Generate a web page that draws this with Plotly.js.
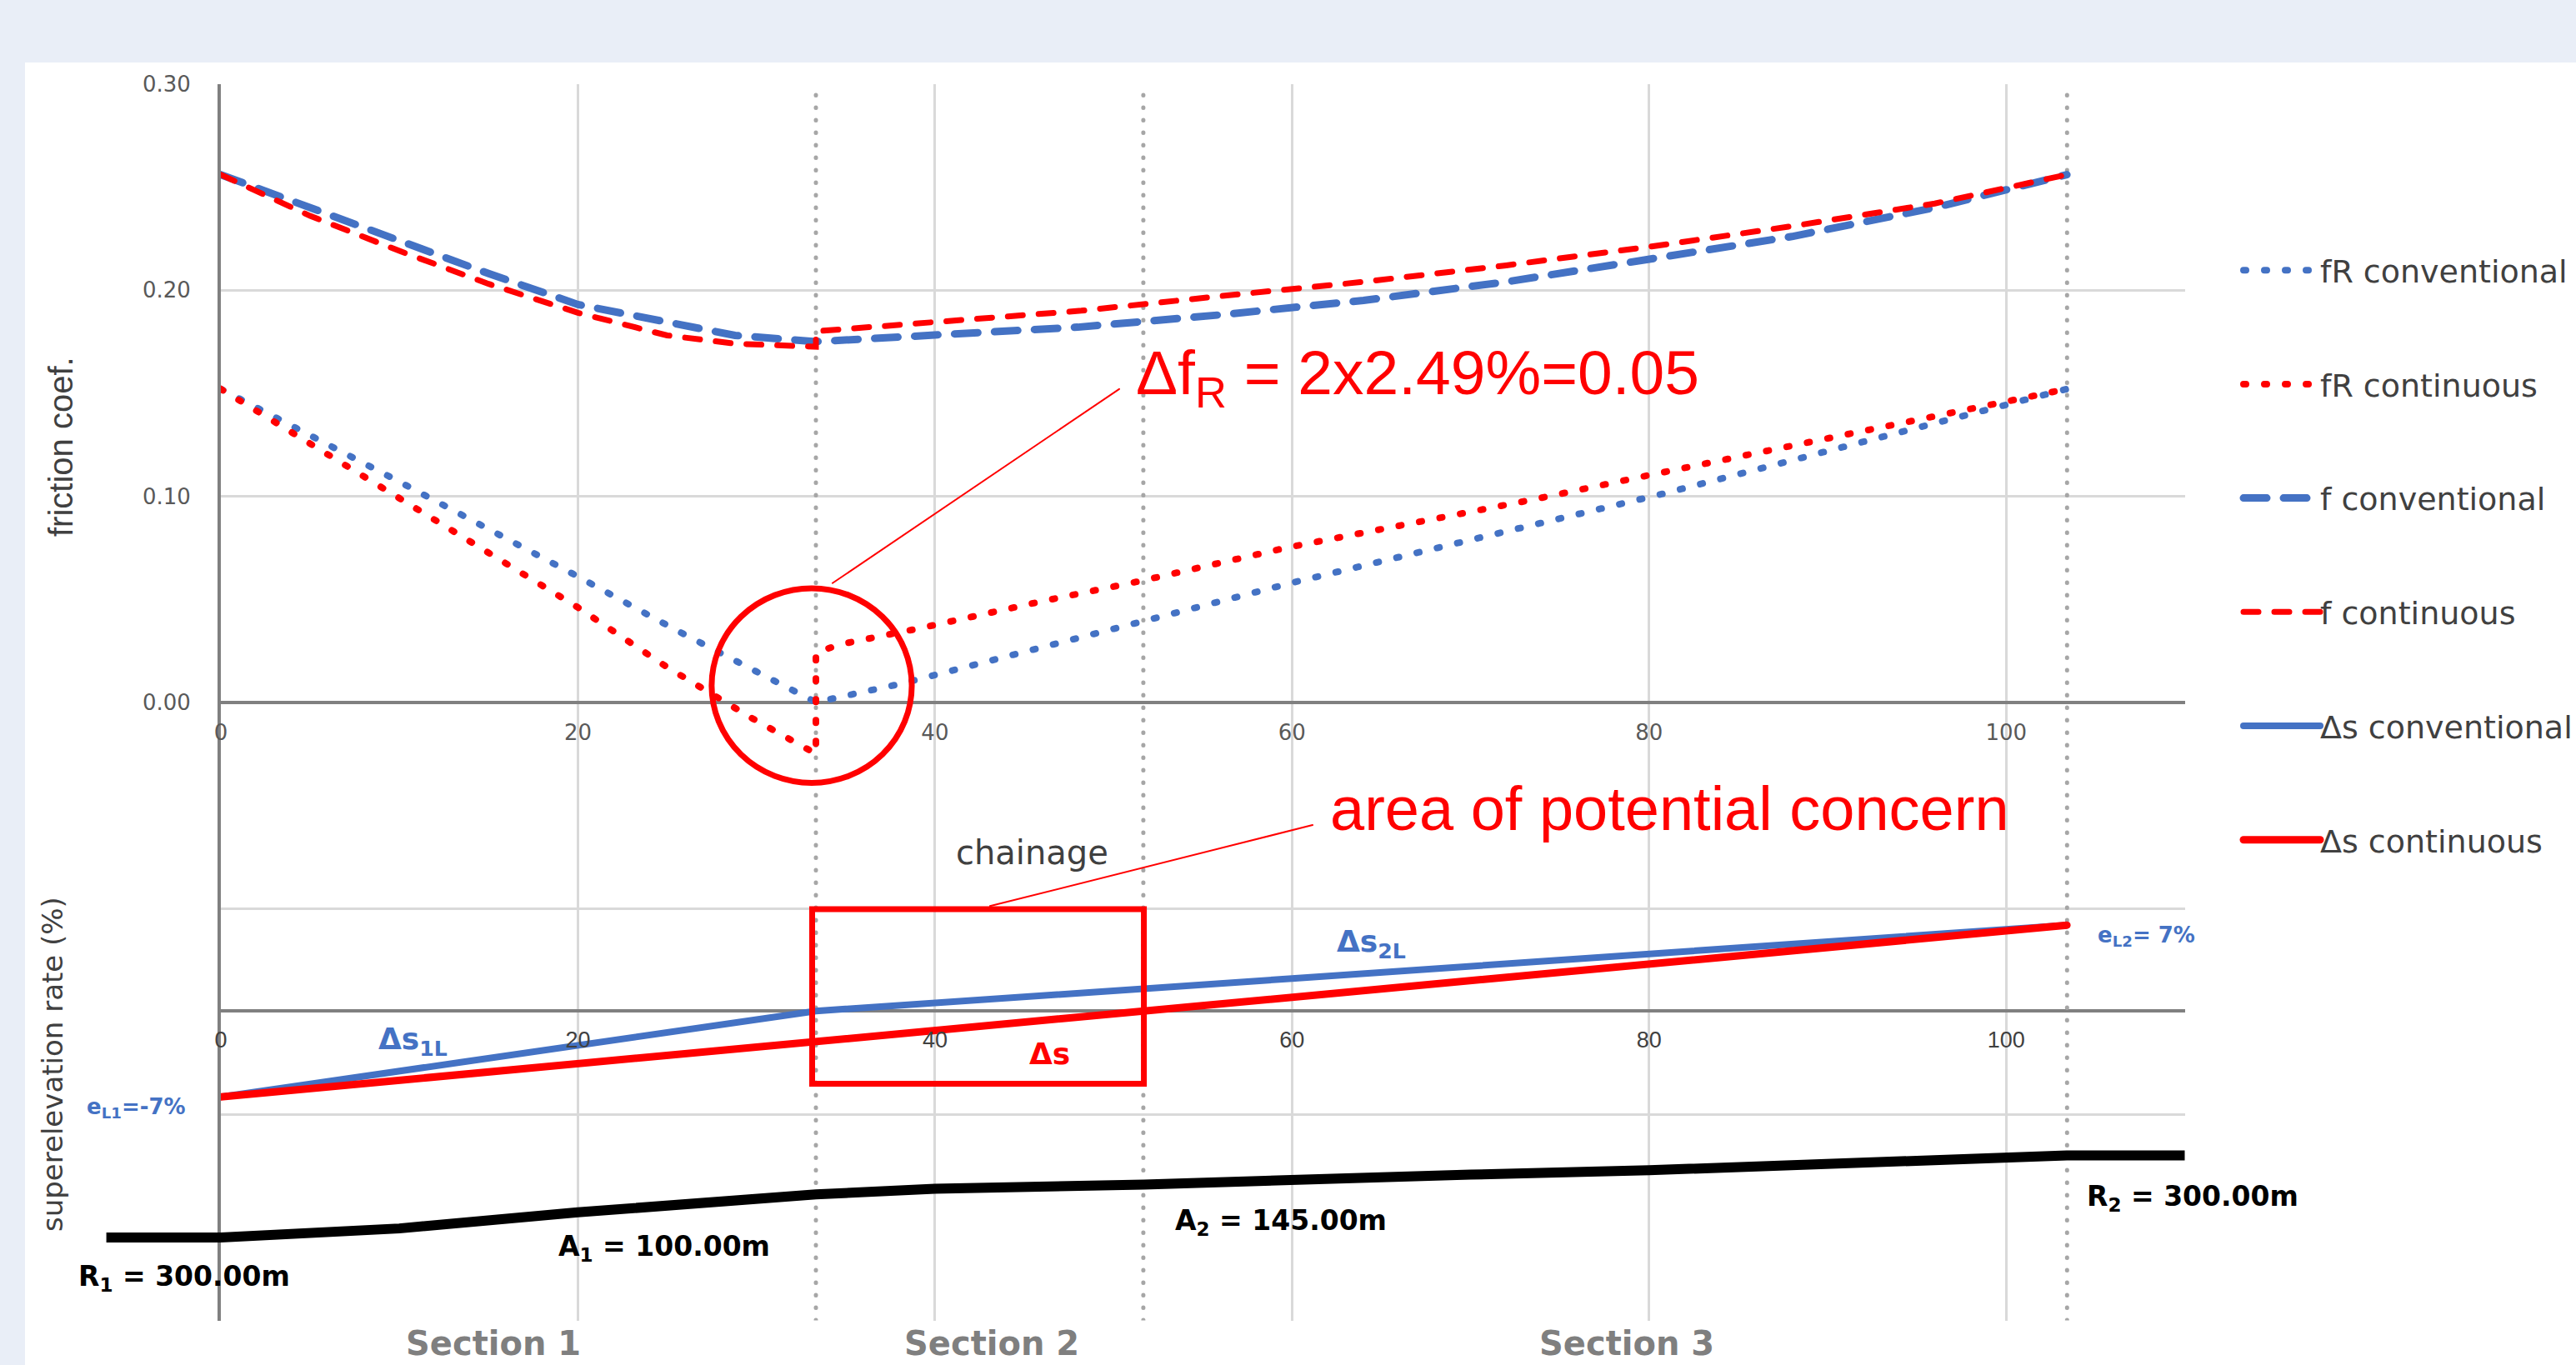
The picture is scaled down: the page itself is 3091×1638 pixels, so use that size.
<!DOCTYPE html>
<html>
<head>
<meta charset="utf-8">
<script src="https://cdn.plot.ly/plotly-3.0.1.min.js"></script>
<style>
html,body{margin:0;padding:0;background:#E9EEF7;}
#chart{width:3091px;height:1638px;}
.js-line{stroke-linecap:round;}
.shapelayer path{stroke-linecap:round;}
.legendlines path{d:path("M5,0h92");}
</style>
</head>
<body>
<div id="chart"></div>
<script>
// ---------- data (chainage in m) ----------
const fRConvX = [0, 10, 20, 25.5, 33.33, 38.1, 51.5, 60, 80.7, 90, 103.4];
const fRConvY = [0.152, 0.107, 0.061, 0.035, 0.0, 0.009, 0.039, 0.058, 0.101, 0.122, 0.152];

const fRContX = [0, 10, 20, 25, 29.8, 33.33, 33.33, 34.65, 39.2, 46, 51.6, 59.7, 67.5, 73.3, 79.9, 85.5, 95, 103.4];
const fRContY = [0.152, 0.099, 0.046, 0.017, -0.008, -0.025, 0.024, 0.028, 0.036, 0.049, 0.059, 0.075, 0.088, 0.098, 0.110, 0.120, 0.137, 0.152];

const fConvX = [0, 5, 10, 15, 20, 25, 28.8, 33.33, 40, 48, 56, 64, 72, 80, 88, 96, 103.4];
const fConvY = [0.256, 0.240, 0.224, 0.208, 0.193, 0.184, 0.178, 0.175, 0.178, 0.182, 0.188, 0.195, 0.204, 0.215, 0.226, 0.240, 0.256];

const fContX = [0, 5, 10, 15, 20, 25, 28.8, 32.7, 33.33, 33.33, 40.45, 48.2, 55.9, 64, 72, 80, 88, 96, 103.4];
const fContY = [0.256, 0.236, 0.219, 0.203, 0.189, 0.178, 0.174, 0.173, 0.1725, 0.180, 0.185, 0.190, 0.197, 0.204, 0.212, 0.221, 0.231, 0.242, 0.256];

const dsConvX = [0, 20, 33.33, 60, 80, 103.4];
const dsConvY = [-7, -2.75, 0, 2.65, 4.65, 7];          // superelevation %
const dsContX = [0, 20, 33.33, 51.7, 80, 103.4];
const dsContY = [-7, -4.3, -2.49, 0, 3.83, 7];

const curvX = [-6.4, 0, 10, 20, 33.33, 40, 51.7, 60, 70, 80, 90, 100, 103.4, 110];
const curvY = [-3.33, -3.33, -2.6, -1.3, 0.15, 0.6, 0.95, 1.35, 1.75, 2.1, 2.55, 3.1, 3.3, 3.3]; // 1000/R

const sectionBounds = [33.33, 51.67, 103.41];

const xTickVals = [0, 20, 40, 60, 80, 100];
const xTickText = ['0', '20', '40', '60', '80', '100'];
const yTickVals = [0, 0.1, 0.2, 0.3];
const yTickText = ['0.00', '0.10', '0.20', '0.30'];
const yMinorGrid = [-0.3, -0.2, -0.1];

const seriesNames = ['fR conventional', 'fR continuous', 'f conventional', 'f continuous', 'Δs conventional', 'Δs continuous'];

// ---------- helpers (pixel -> paper) ----------
const W = 3091, H = 1638;
const P = px => px / W;
const Q = py => 1 - py / H;

const BLUE = '#4472C4', RED = '#FF0000';

const traces = [
  {x: fRConvX, y: fRConvY, name: seriesNames[0], legendgroup: 'g1', mode: 'lines',
   line: {color: BLUE, width: 8, dash: '3px,22px'}, xaxis: 'x', yaxis: 'y'},
  {x: fRContX, y: fRContY, name: seriesNames[1], legendgroup: 'g2', mode: 'lines',
   line: {color: RED, width: 8, dash: '3px,22px'}, xaxis: 'x', yaxis: 'y'},
  {x: fConvX, y: fConvY, name: seriesNames[2], legendgroup: 'g3', mode: 'lines',
   line: {color: BLUE, width: 9, dash: '28px,20px'}, xaxis: 'x', yaxis: 'y'},
  {x: fContX, y: fContY, name: seriesNames[3], legendgroup: 'g4', mode: 'lines',
   line: {color: RED, width: 7, dash: '18px,19px'}, xaxis: 'x', yaxis: 'y'},
  {x: dsConvX, y: dsConvY, name: seriesNames[4], legendgroup: 'g5', mode: 'lines',
   line: {color: BLUE, width: 8}, xaxis: 'x2', yaxis: 'y2'},
  {x: dsContX, y: dsContY, name: seriesNames[5], legendgroup: 'g6', mode: 'lines',
   line: {color: RED, width: 9}, xaxis: 'x2', yaxis: 'y2'},
  {x: curvX, y: curvY, name: 'curvature', showlegend: false, mode: 'lines',
   line: {color: '#000000', width: 12}, xaxis: 'x3', yaxis: 'y3'}
];

const yTop = 100.8, yBot = 1584.6, xL = 265, xR = 2621.5;

const shapes = [
  {type: 'rect', xref: 'paper', yref: 'paper', x0: P(30), x1: 1, y0: 0, y1: Q(75),
   fillcolor: '#FFFFFF', line: {width: 0}, layer: 'below'}
];
sectionBounds.forEach(b => shapes.push({
  type: 'line', xref: 'x', yref: 'y', x0: b, x1: b, y0: -0.3, y1: 0.3,
  line: {color: '#A6A6A6', width: 5, dash: '0.5px,14.5px'}, layer: 'between'
}));
// callout circle, box and leader lines
shapes.push({type: 'circle', xref: 'x', yref: 'y', x0: 27.49, x1: 38.70, y0: -0.0391, y1: 0.0553,
  line: {color: RED, width: 7}, layer: 'above'});
shapes.push({type: 'line', xref: 'x', yref: 'y', x0: 34.26, y0: 0.0578, x1: 50.32, y1: 0.152,
  line: {color: RED, width: 2}, layer: 'above'});
shapes.push({type: 'rect', xref: 'x', yref: 'y', x0: 33.12, x1: 51.7, y0: -0.1851, y1: -0.1004,
  line: {color: RED, width: 7}, layer: 'above'});
shapes.push({type: 'line', xref: 'x', yref: 'y', x0: 43.08, y0: -0.0989, x1: 61.15, y1: -0.0596,
  line: {color: RED, width: 2}, layer: 'above'});

function ann(text, px, py, font, extra) {
  return Object.assign({text: text, x: P(px), y: Q(py), xref: 'paper', yref: 'paper',
    xanchor: 'left', yanchor: 'middle', showarrow: false, font: font}, extra || {});
}
const dv = (s, c) => ({family: 'DejaVu Sans', size: s, color: c});
const lib = (s, c) => ({family: 'Liberation Sans', size: s, color: c});

const annotations = [
  ann('Δf<sub>R</sub> = 2x2.49%=0.05', 1361, 452, lib(75, RED)),
  ann('area of potential concern', 1594, 970, lib(74, RED)),
  ann('chainage', 1145, 1023, dv(40, '#404040')),
  ann('friction coef.', 73, 536, lib(40, '#404040'), {xanchor: 'center', textangle: -90}),
  ann('superelevation rate (%)', 63, 1277, dv(34, '#404040'), {xanchor: 'center', textangle: -90}),
  ann('<b>Δs<sub>1L</sub></b>', 452, 1249, dv(36, BLUE)),
  ann('<b>e<sub>L1</sub>=-7%</b>', 102, 1329, dv(26, BLUE)),
  ann('<b>Δs<sub>2L</sub></b>', 1602, 1132, dv(36, BLUE)),
  ann('<b>Δs</b>', 1233, 1264, dv(36, RED)),
  ann('<b>e<sub>L2</sub>= 7%</b>', 2515, 1123, dv(26, BLUE)),
  ann('<b>R<sub>1</sub> = 300.00m</b>', 92, 1533, dv(33, '#000000')),
  ann('<b>A<sub>1</sub> = 100.00m</b>', 668, 1497, dv(33, '#000000')),
  ann('<b>A<sub>2</sub> = 145.00m</b>', 1408, 1466, dv(33, '#000000')),
  ann('<b>R<sub>2</sub> = 300.00m</b>', 2502, 1437, dv(33, '#000000')),
  ann('<b>Section 1</b>', 485, 1612, dv(40, '#7F7F7F')),
  ann('<b>Section 2</b>', 1083, 1612, dv(40, '#7F7F7F')),
  ann('<b>Section 3</b>', 1845, 1612, dv(40, '#7F7F7F'))
];

const layout = {
  width: W, height: H,
  margin: {l: 0, r: 0, t: 0, b: 0, autoexpand: false},
  paper_bgcolor: '#E9EEF7',
  plot_bgcolor: 'rgba(0,0,0,0)',
  showlegend: true,
  legend: {x: P(2687), xanchor: 'left', y: Q(293), yanchor: 'top',
    font: dv(38, '#404040'), itemwidth: 87, tracegroupgap: 84.3,
    traceorder: 'grouped', bgcolor: 'rgba(0,0,0,0)'},
  xaxis: {domain: [P(xL), P(xR)], range: [0, 110], anchor: 'free', position: Q(842.7),
    tickmode: 'array', tickvals: xTickVals, ticktext: xTickText,
    showgrid: true, gridcolor: '#D9D9D9', gridwidth: 3, zeroline: false, showline: false,
    ticks: '', tickfont: dv(26, '#595959'), ticklabelstandoff: 18},
  yaxis: {domain: [Q(yBot), Q(yTop)], range: [-0.3, 0.3], anchor: 'x',
    tickmode: 'array', tickvals: yTickVals, ticktext: yTickText,
    showgrid: true, gridcolor: '#D9D9D9', gridwidth: 3,
    minor: {tickmode: 'array', tickvals: yMinorGrid, showgrid: true, gridcolor: '#D9D9D9', gridwidth: 3, ticks: ''},
    zeroline: true, zerolinecolor: '#808080', zerolinewidth: 4,
    showline: true, linecolor: '#808080', linewidth: 4,
    ticks: '', tickfont: dv(26, '#595959'), ticklabelstandoff: 27},
  xaxis2: {overlaying: 'x', domain: [P(xL), P(xR)], range: [0, 110], anchor: 'free', position: Q(1213),
    tickmode: 'array', tickvals: xTickVals, ticktext: xTickText,
    showgrid: false, zeroline: false, showline: false, ticks: '',
    tickfont: lib(27, '#404040'), ticklabelstandoff: 16},
  yaxis2: {overlaying: 'y', anchor: 'x2', range: [-25.24, 75.61],
    showgrid: false, showticklabels: false, ticks: '', showline: false,
    zeroline: true, zerolinecolor: '#808080', zerolinewidth: 4},
  xaxis3: {domain: [P(127.6), P(xR)], range: [-6.41, 110], anchor: 'y3', visible: false},
  yaxis3: {domain: [Q(yBot), Q(yTop)], range: [-10.04, 89.88], anchor: 'x3', visible: false},
  shapes: shapes,
  annotations: annotations
};

Plotly.newPlot('chart', traces, layout, {displayModeBar: false, staticPlot: true}).then(gd => {
  // drop empty placeholder text nodes left by the library
  gd.querySelectorAll('text').forEach(t => {
    if (!t.textContent || !t.textContent.trim()) t.remove();
  });
});
</script>
</body>
</html>
